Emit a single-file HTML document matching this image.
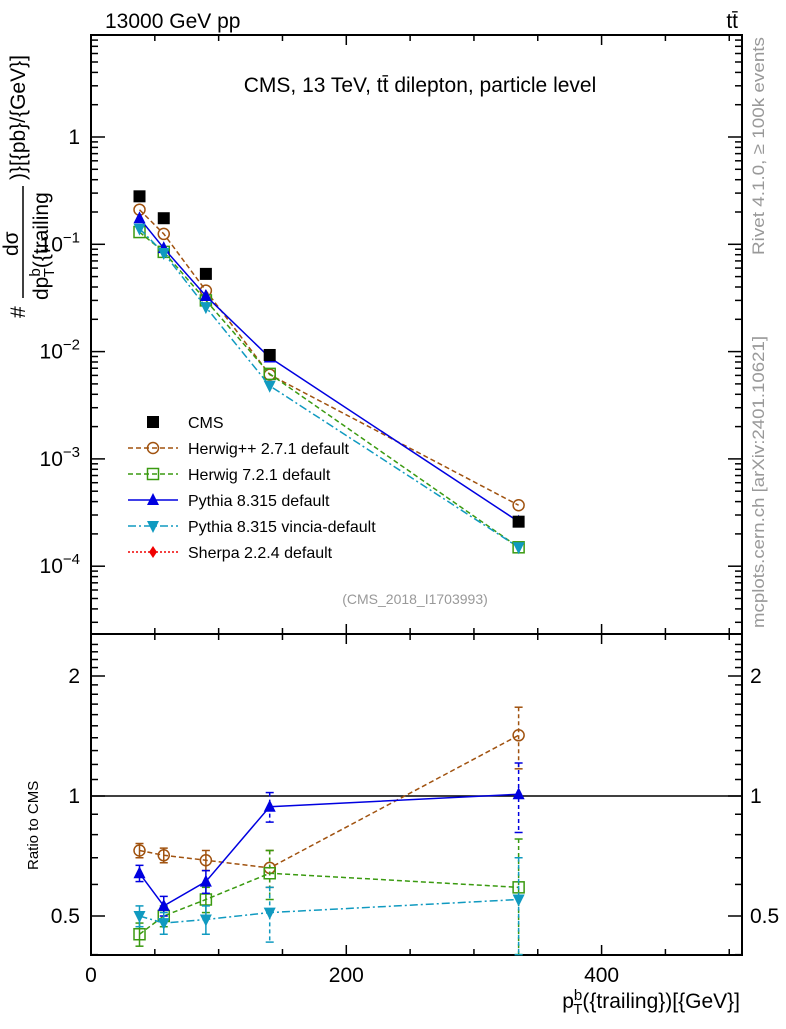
<!DOCTYPE html>
<html><head><meta charset="utf-8">
<style>
html,body{margin:0;padding:0;background:#fff;}
svg text{font-family:"Liberation Sans",sans-serif;}
</style></head>
<body>
<svg id="chart" width="786" height="1024" viewBox="0 0 786 1024" xmlns="http://www.w3.org/2000/svg">
<g id="g"></g>
<text x="105" y="28" font-size="21">13000 GeV pp</text>
<text x="738" y="28" font-size="21" text-anchor="end">tt̄</text>
<text x="420" y="92" font-size="21" text-anchor="middle">CMS, 13 TeV, tt̄ dilepton, particle level</text>
<text x="415" y="604" font-size="14" fill="#999" text-anchor="middle">(CMS_2018_I1703993)</text>
<text transform="translate(764,255) rotate(-90)" font-size="17" fill="#999" textLength="218" lengthAdjust="spacingAndGlyphs">Rivet 4.1.0, ≥ 100k events</text>
<text transform="translate(764,628) rotate(-90)" font-size="17" fill="#999" textLength="292" lengthAdjust="spacingAndGlyphs">mcplots.cern.ch [arXiv:2401.10621]</text>
<g>
<text transform="translate(25,318) rotate(-90)" font-size="21">#</text>
<text transform="translate(18,256) rotate(-90)" font-size="21">dσ</text>
<line x1="23" y1="298" x2="23" y2="186" stroke="#000" stroke-width="1.5"/>
<text transform="translate(48,300) rotate(-90)" font-size="21">dp<tspan font-size="15" dy="-8">b</tspan><tspan font-size="15" dy="14" dx="-9">T</tspan><tspan dy="-6">({trailing</tspan></text>
<text transform="translate(25,180) rotate(-90)" font-size="21">)}[{pb}/{GeV}]</text>
</g>
<text transform="translate(38,870) rotate(-90)" font-size="15">Ratio to CMS</text>
<text x="740" y="1008" font-size="21" text-anchor="end">p<tspan font-size="15" dy="-8">b</tspan><tspan font-size="15" dy="14" dx="-9">T</tspan><tspan dy="-6">({trailing})[{GeV}]</tspan></text>
</svg>
<script>
const xEdges=[0,510];
const xVals=[38,57,90,140,335];
const xTicks=[0,200,400];
const xTickLabels=["0","200","400"];
const cms=[0.28,0.175,0.053,0.0093,0.00026];
const herwigpp=[0.21,0.125,0.037,0.0061,0.00037];
const herwig7=[0.13,0.085,0.030,0.0062,0.00015];
const pythia=[0.175,0.092,0.033,0.0088,0.00026];
const vincia=[0.14,0.083,0.026,0.0048,0.00015];
const rHerwigpp=[0.73,0.71,0.69,0.66,1.42];
const rHerwig7=[0.45,0.50,0.55,0.64,0.59];
const rPythia=[0.64,0.53,0.61,0.94,1.01];
const rVincia=[0.50,0.48,0.49,0.51,0.55];
const eHerwigpp=[0.03,0.03,0.04,0.07,0.25];
const eHerwig7=[0.03,0.03,0.04,0.09,0.19];
const ePythia=[0.03,0.03,0.04,0.08,0.2];
const eVincia=[0.03,0.03,0.04,0.08,0.15];
const mainTickLabels=["1","10^-1","10^-2","10^-3","10^-4"];
const mainTickVals=[1,0.1,0.01,0.001,0.0001];
const ratioTickVals=[0.5,1,2];

const L=91,R=742,T=35,MB=634,RB=955;
const X=v=>L+(v-xEdges[0])/(xEdges[1]-xEdges[0])*(R-L);
const Y=v=>137-107.3*Math.log10(v);
const YR=v=>796-120*Math.log2(v);
const g=document.getElementById('g');
const NS='http://www.w3.org/2000/svg';
function el(t,a,p){const e=document.createElementNS(NS,t);for(const k in a)e.setAttribute(k,a[k]);(p||g).appendChild(e);return e;}

let f1=el('rect',{x:L,y:T,width:R-L,height:MB-T,fill:'none',stroke:'#000','stroke-width':2});


let f2=el('rect',{x:L,y:MB,width:R-L,height:RB-MB,fill:'none',stroke:'#000','stroke-width':2});



for(let v=0;v<=500;v+=50){const maj=v%200===0;const len=maj?10:6;const x=X(v);
 for(const [y0,dir] of [[T,1],[MB,-1],[MB,1],[RB,-1]]) el('line',{x1:x,y1:y0,x2:x,y2:y0+dir*len,stroke:'#000','stroke-width':1.5});}
xTicks.forEach((v,i)=>{const t=el('text',{x:X(v),y:982,'font-size':21,'text-anchor':'middle'});t.textContent=xTickLabels[i];

});

for(let d=-5;d<=0;d++){for(let m=1;m<10;m++){const v=m*Math.pow(10,d);const y=Y(v);if(y<T||y>MB)continue;const len=m===1?14:7;
 el('line',{x1:L,y1:y,x2:L+len,y2:y,stroke:'#000','stroke-width':1.5});el('line',{x1:R,y1:y,x2:R-len,y2:y,stroke:'#000','stroke-width':1.5});}}
mainTickVals.forEach((v,i)=>{const t=el('text',{x:80,y:Y(v)+7,'font-size':21,'text-anchor':'end'});
 const s=mainTickLabels[i];if(s.includes('^')){const [b,e]=s.split('^');t.textContent=b;const ts=el('tspan',{dy:-9,'font-size':15},t);ts.textContent=e.replace('-','−');}else t.textContent=s;
 
 });

for(let v=0.4;v<=2.5;v+=0.1){const y=YR(v);if(y<MB||y>RB)continue;const maj=[0.5,1,2].some(m=>Math.abs(m-v)<1e-6);const len=maj?14:7;
 el('line',{x1:L,y1:y,x2:L+len,y2:y,stroke:'#000','stroke-width':1.5});el('line',{x1:R,y1:y,x2:R-len,y2:y,stroke:'#000','stroke-width':1.5});}
ratioTickVals.forEach(v=>{for(const [x,a] of [[80,'end'],[750,'start']]){const t=el('text',{x:x,y:YR(v)+7,'font-size':21,'text-anchor':a});t.textContent=String(v);
 
 }});
let ref=el('line',{x1:L,y1:YR(1),x2:R,y2:YR(1),stroke:'#000','stroke-width':1.5});



function marker(kind,x,y,c){
 if(kind==='sq')return el('rect',{x:x-6,y:y-6,width:12,height:12,fill:'#000'});
 if(kind==='circ')return el('circle',{cx:x,cy:y,r:5.5,fill:'none',stroke:c,'stroke-width':1.5});
 if(kind==='osq')return el('rect',{x:x-5.5,y:y-5.5,width:11,height:11,fill:'none',stroke:c,'stroke-width':1.5});
 if(kind==='up')return el('polygon',{points:`${x},${y-7} ${x-6},${y+5} ${x+6},${y+5}`,fill:c});
 if(kind==='down')return el('polygon',{points:`${x},${y+7} ${x-6},${y-5} ${x+6},${y-5}`,fill:c});
 if(kind==='dia')return el('polygon',{points:`${x},${y-6} ${x-4},${y} ${x},${y+6} ${x+4},${y}`,fill:c});
}
const series=[
 {name:'herwigpp',vals:herwigpp,r:rHerwigpp,e:eHerwigpp,c:'#a0520f',dash:'5,3',m:'circ'},
 {name:'herwig7',vals:herwig7,r:rHerwig7,e:eHerwig7,c:'#3a9a10',dash:'5,3',m:'osq'},
 {name:'pythia',vals:pythia,r:rPythia,e:ePythia,c:'#0000e0',dash:'',m:'up'},
 {name:'vincia',vals:vincia,r:rVincia,e:eVincia,c:'#109ac0',dash:'8,3,2,3',m:'down'}];
series.forEach(s=>{
 const p=el('polyline',{points:xVals.map((x,i)=>X(x)+','+Y(s.vals[i])).join(' '),fill:'none',stroke:s.c,'stroke-width':1.5,'stroke-dasharray':s.dash});
 
 
 xVals.forEach((x,i)=>{const m=marker(s.m,X(x),Y(s.vals[i]),s.c);
  
  });
 const q=el('polyline',{points:xVals.map((x,i)=>X(x)+','+YR(s.r[i])).join(' '),fill:'none',stroke:s.c,'stroke-width':1.5,'stroke-dasharray':s.dash});
 
 
 xVals.forEach((x,i)=>{const xx=X(x),y1=YR(s.r[i]+s.e[i]),y2=YR(Math.max(0.3,s.r[i]-s.e[i]));
  el('line',{x1:xx,y1:y1,x2:xx,y2:y2,stroke:s.c,'stroke-width':1.5,'stroke-dasharray':i>=3?'4,3':''});
  el('line',{x1:xx-4,y1:y1,x2:xx+4,y2:y1,stroke:s.c,'stroke-width':1.5});
  el('line',{x1:xx-4,y1:y2,x2:xx+4,y2:y2,stroke:s.c,'stroke-width':1.5});
  const m=marker(s.m,xx,YR(s.r[i]),s.c);
  
  });
});
xVals.forEach((x,i)=>{const m=marker('sq',X(x),Y(cms[i]));
 
 });

const legNames=['CMS','Herwig++ 2.7.1 default','Herwig 7.2.1 default','Pythia 8.315 default','Pythia 8.315 vincia-default','Sherpa 2.2.4 default'];
const legSty=[{m:'sq',c:'#000',d:null},{m:'circ',c:'#a0520f',d:'5,3'},{m:'osq',c:'#3a9a10',d:'5,3'},{m:'up',c:'#0000e0',d:''},{m:'down',c:'#109ac0',d:'8,3,2,3'},{m:'dia',c:'#f00000',d:'2,2'}];
legNames.forEach((n,i)=>{const y=422+26*i;const s=legSty[i];
 const grp=el('g',{});
 
 
 if(s.d!==null)el('line',{x1:128,y1:y,x2:178,y2:y,stroke:s.c,'stroke-width':1.5,'stroke-dasharray':s.d},grp);
 const m=marker(s.m,153,y,s.c);grp.appendChild(m);
 const t=el('text',{x:188,y:y+6,'font-size':16},grp);t.textContent=n;});
</script>
</body></html>
